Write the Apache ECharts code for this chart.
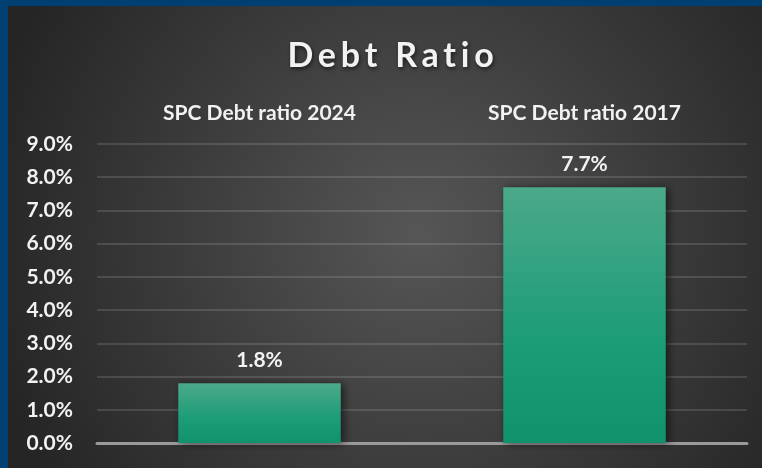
<!DOCTYPE html>
<html>
<head>
<meta charset="utf-8">
<script src="https://cdn.jsdelivr.net/npm/echarts@6/dist/echarts.min.js"></script>
<style>
html,body{margin:0;padding:0;background:#262626;}
#chart{width:762px;height:468px;}
</style>
</head>
<body>
<div id="chart"></div>
<script>
const categories = ['SPC Debt ratio 2024', 'SPC Debt ratio 2017'];
const debtRatio = [1.8, 7.7];
const yMin = 0, yMax = 9, yInterval = 1;
const titleText = 'Debt Ratio';

// letter spacing for the title (canvas supports it natively)
(function () {
  const proto = CanvasRenderingContext2D.prototype;
  const orig = proto.fillText;
  proto.fillText = function (t, x, y, m) {
    if (t === titleText && 'letterSpacing' in this) {
      const prev = this.letterSpacing;
      this.letterSpacing = '4.8px';
      const r = m === undefined ? orig.call(this, t, x + 2, y) : orig.call(this, t, x + 2, y, m);
      this.letterSpacing = prev;
      return r;
    }
    return m === undefined ? orig.call(this, t, x, y) : orig.call(this, t, x, y, m);
  };
})();

const FONT = 'Lato';
const chart = echarts.init(document.getElementById('chart'), null, {renderer: 'canvas'});
chart.setOption({
  animation: false,
  backgroundColor: {
    type: 'radial', x: 0.55, y: 0.5, r: 0.95,
    colorStops: [{offset: 0, color: '#565656'}, {offset: 1, color: '#252525'}]
  },
  graphic: [
    {type: 'rect', left: 0, top: 0, shape: {width: 8, height: 468}, style: {fill: '#003F72'}, z: 100},
    {type: 'rect', left: 0, top: 0, shape: {width: 762, height: 6}, style: {fill: '#003F72'}, z: 100}
  ],
  title: {
    text: titleText,
    left: 386, top: 34, textAlign: 'center',
    textStyle: {
      fontFamily: FONT, fontWeight: 'bold', fontSize: 34, color: '#F2F2F2',
      textShadowColor: 'rgba(0,0,0,0.6)', textShadowBlur: 4, textShadowOffsetX: 1, textShadowOffsetY: 2
    }
  },
  grid: {left: 97, right: 15, top: 144, bottom: 25, containLabel: false},
  xAxis: [
    {
      type: 'category', data: categories, position: 'top',
      axisLine: {show: false}, axisTick: {show: false},
      axisLabel: {fontFamily: FONT, fontWeight: 'bold', fontSize: 21, color: '#F2F2F2', margin: 20}
    },
    {
      type: 'category', data: categories, position: 'bottom',
      axisLine: {show: true, lineStyle: {color: '#9a9a9a', width: 3}},
      axisTick: {show: false}, axisLabel: {show: false}
    }
  ],
  yAxis: {
    type: 'value', min: yMin, max: yMax, interval: yInterval,
    axisLine: {show: false}, axisTick: {show: false},
    splitLine: {lineStyle: {color: 'rgba(255,255,255,0.13)', width: 2}},
    axisLabel: {
      fontFamily: FONT, fontWeight: 'bold', fontSize: 21, color: '#F2F2F2', margin: 24,
      formatter: v => v.toFixed(1) + '%'
    }
  },
  series: [{
    type: 'bar', data: debtRatio, barWidth: '50%', xAxisIndex: 0, z: 3,
    itemStyle: {
      color: {type: 'linear', x: 0, y: 0, x2: 0, y2: 1,
        colorStops: [{offset: 0, color: '#4BA98A'}, {offset: 0.6, color: '#1C9C77'}, {offset: 1, color: '#11926C'}]},
      shadowColor: 'rgba(0,0,0,0.55)', shadowBlur: 8, shadowOffsetX: 3, shadowOffsetY: 1
    },
    label: {
      show: true, position: 'top', distance: 12,
      fontFamily: FONT, fontWeight: 'bold', fontSize: 21, color: '#F2F2F2',
      formatter: p => p.value.toFixed(1) + '%'
    }
  }]
});
</script>
</body>
</html>
